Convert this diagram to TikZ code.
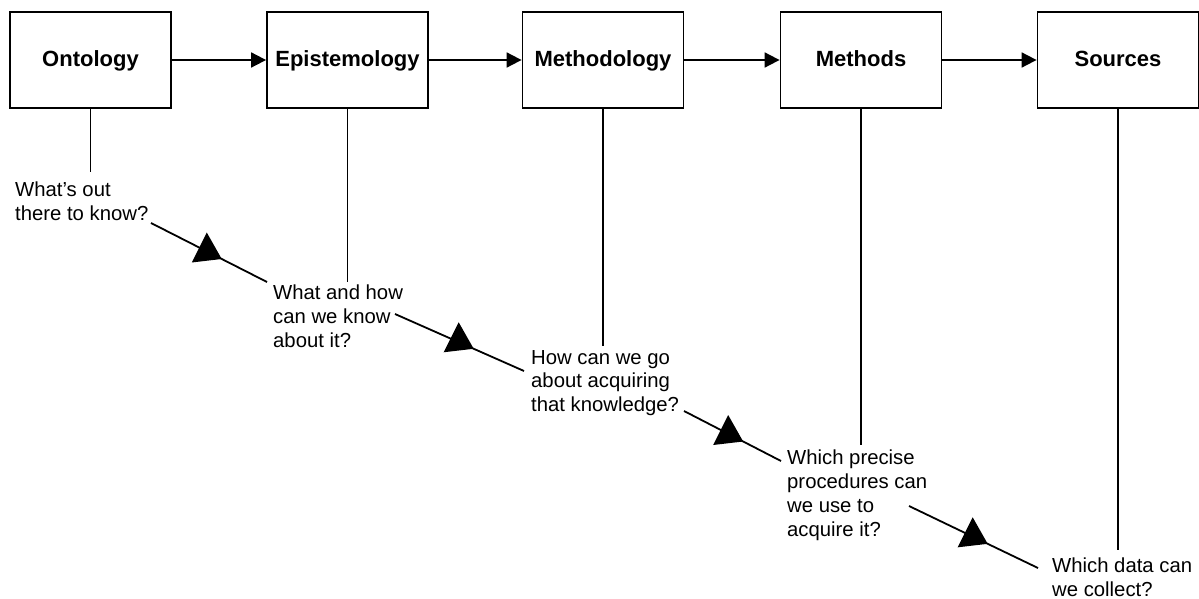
\documentclass[tikz,border=0pt]{standalone}
\usepackage{fontspec}
\setmainfont{Liberation Sans}
\usetikzlibrary{arrows.meta}
\begin{document}
\begin{tikzpicture}[x=1pt,y=-1pt,
  stage/.style={draw, line width=1.8pt, minimum width=161pt, minimum height=96pt,
    inner sep=0pt, text height=15pt, text depth=1pt,
    font=\fontsize{22}{26}\selectfont\bfseries},
  note/.style={anchor=north west, inner sep=0pt, align=left,
    font=\fontsize{20.3}{23.8}\selectfont},
  flow/.style={line width=1.8pt, -{Triangle[length=15pt,width=15pt]}},
  link/.style={line width=1.8pt},
  marker/.style={fill=black},
]
\useasboundingbox (0,0) rectangle (1199,599);

% the five stages along the top
\node[stage] (ont) at (90.5,60)  {Ontology};
\node[stage] (epi) at (347.5,60) {Epistemology};
\node[stage] (mty) at (603,60)   {Methodology};
\node[stage] (mth) at (861,60)   {Methods};
\node[stage] (src) at (1118,60)  {Sources};

\draw[flow] (ont) -- (epi);
\draw[flow] (epi) -- (mty);
\draw[flow] (mty) -- (mth);
\draw[flow] (mth) -- (src);

% the guiding questions, stepping down to the right
\node[note] (q1) at (15,182)   {What’s out\\there to know?};
\node[note] (q2) at (273,285)  {What and how\\can we know\\about it?};
\node[note] (q3) at (531,350)  {How can we go\\about acquiring\\that knowledge?};
\node[note] (q4) at (787,450)  {Which precise\\procedures can\\we use to\\acquire it?};
\node[note] (q5) at (1052,558) {Which data can\\we collect?};

% drop lines from each stage to its question
\coordinate (d1) at (90.5,172);
\coordinate (d2) at (347.5,282);
\coordinate (d3) at (603,346);
\coordinate (d4) at (861,445);
\coordinate (d5) at (1118,550);
\draw[link] (ont.south) -- (d1);
\draw[link] (epi.south) -- (d2);
\draw[link] (mty.south) -- (d3);
\draw[link] (mth.south) -- (d4);
\draw[link] (src.south) -- (d5);

% links between consecutive questions, each with a triangle marker
\coordinate (s1) at (151,223);  \coordinate (e1) at (267,282);
\coordinate (s2) at (395,314);  \coordinate (e2) at (524,371);
\coordinate (s3) at (684,411);  \coordinate (e3) at (781,461);
\coordinate (s4) at (909,506);  \coordinate (e4) at (1038,568);
\foreach \i in {1,...,4}{
  \draw[link] (s\i) -- coordinate[pos=0.61] (m\i) (e\i);
  \fill[marker, shift={(m\i)}] (0,0) -- (-15,-26.5) -- (-30,3.5) -- cycle;
}
\end{tikzpicture}
\end{document}
